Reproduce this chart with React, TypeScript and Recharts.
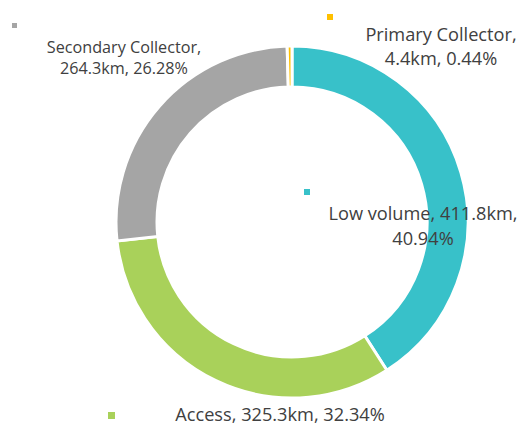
import { PieChart, Pie, Cell } from "recharts"

const categories = ["Low volume", "Access", "Secondary Collector", "Primary Collector"]
const lengthsKm = [411.8, 325.3, 264.3, 4.4]
const sharesPct = ["40.94", "32.34", "26.28", "0.44"]
const sliceColors = ["#38C1C9", "#A9D15A", "#A5A5A5", "#FFC000"]

const FONT = "'Open Sans', 'Noto Sans', sans-serif"
const TEXT = "#404040"

// where Excel left each data label (manually dragged), per category index
const labelLayout = [
  { cx: 423, y: 220, size: 18.2, lh: 25, breakAfter: 2, mx: 304, my: 189, ms: 6 },
  { cx: 280, y: 421, size: 18.2, lh: 0, breakAfter: 0, mx: 108, my: 412, ms: 7 },
  { cx: 124, y: 53, size: 16.2, lh: 21, breakAfter: 1, mx: 12, my: 23, ms: 5 },
  { cx: 441, y: 41, size: 18.2, lh: 24, breakAfter: 1, mx: 327, my: 14, ms: 6 },
]

const data = categories.map((name, i) => ({ name, value: lengthsKm[i], pct: sharesPct[i] }))

function renderLabel(props: any) {
  const i = props.index
  const l = labelLayout[i]
  const parts = [`${categories[i]},`, `${lengthsKm[i]}km,`, `${sharesPct[i]}%`]
  const lines = l.breakAfter
    ? [parts.slice(0, l.breakAfter).join(" "), parts.slice(l.breakAfter).join(" ")]
    : [parts.join(" ")]
  return (
    <g key={`lbl-${i}`}>
      <rect x={l.mx} y={l.my} width={l.ms} height={l.ms} fill={sliceColors[i]} />
      <text x={l.cx} y={l.y} textAnchor="middle" fontFamily={FONT} fontSize={l.size} fill={TEXT}>
        {lines.map((t, k) => (
          <tspan key={k} x={l.cx} y={l.y + k * l.lh}>{t}</tspan>
        ))}
      </text>
    </g>
  )
}

export default function App() {
  return (
    <div style={{ position: "absolute", left: 0, top: 0, width: 524, height: 426, background: "#fff" }}>
      <PieChart width={524} height={426} margin={{ top: 0, right: 0, bottom: 0, left: 0 }}>
        <Pie
          data={data}
          dataKey="value"
          nameKey="name"
          cx={292}
          cy={222}
          outerRadius={176}
          innerRadius={135}
          startAngle={90}
          endAngle={-270}
          stroke="#fff"
          strokeWidth={3}
          label={renderLabel}
          labelLine={false}
          isAnimationActive={false}
        >
          {data.map((d, i) => (
            <Cell key={d.name} fill={sliceColors[i]} />
          ))}
        </Pie>
      </PieChart>
    </div>
  )
}
